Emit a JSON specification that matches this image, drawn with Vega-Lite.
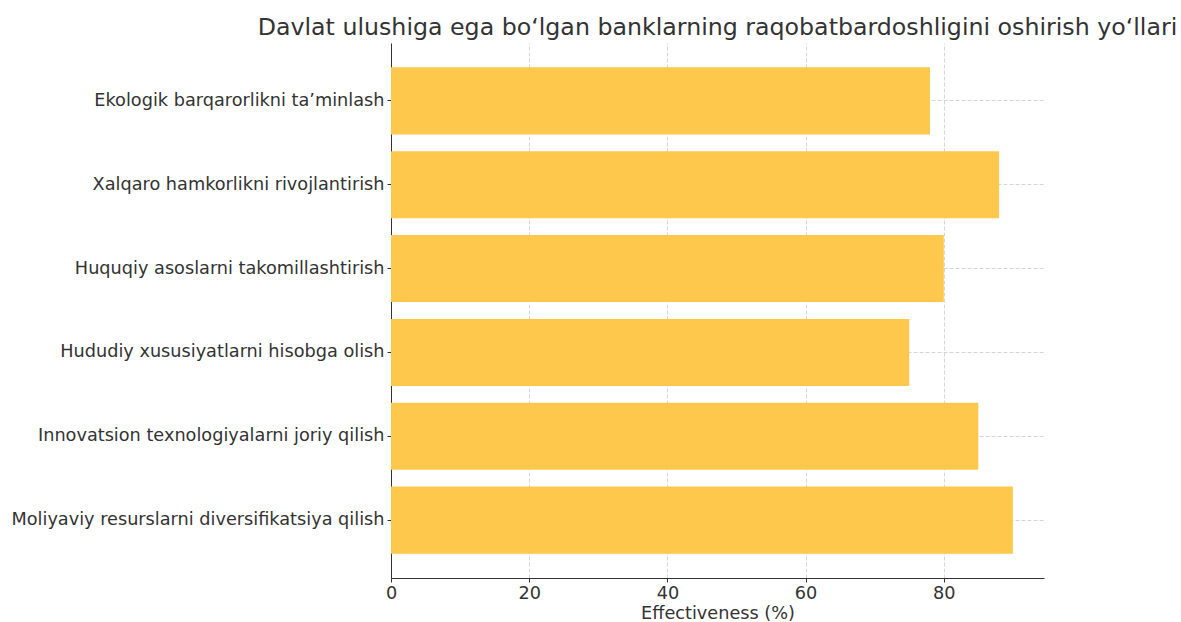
{
  "$schema": "https://vega.github.io/schema/vega-lite/v6.json",
  "autosize": "none",
  "width": 653,
  "height": 535,
  "padding": {"left": 391, "top": 43, "right": 137, "bottom": 44},
  "background": "white",
  "title": {
    "text": "Davlat ulushiga ega bo‘lgan banklarning raqobatbardoshligini oshirish yo‘llari",
    "font": "DejaVu Sans",
    "fontSize": 23.7,
    "fontWeight": "normal",
    "color": "#333333",
    "anchor": "middle",
    "offset": 3
  },
  "data": {
    "values": [
      {"way": "Ekologik barqarorlikni ta’minlash", "value": 78},
      {"way": "Xalqaro hamkorlikni rivojlantirish", "value": 88},
      {"way": "Huquqiy asoslarni takomillashtirish", "value": 80},
      {"way": "Hududiy xususiyatlarni hisobga olish", "value": 75},
      {"way": "Innovatsion texnologiyalarni joriy qilish", "value": 85},
      {"way": "Moliyaviy resurslarni diversifikatsiya qilish", "value": 90}
    ]
  },
  "mark": {"type": "bar", "color": "#FEC84D"},
  "encoding": {
    "y": {
      "field": "way",
      "type": "nominal",
      "sort": null,
      "scale": {"paddingInner": 0.2, "paddingOuter": 0.29},
      "axis": {
        "title": null,
        "labelFont": "DejaVu Sans",
        "labelFontSize": 17.7,
        "labelColor": "#333333",
        "labelPadding": 3,
        "labelLimit": 450,
        "tickSize": 4,
        "tickColor": "#333333",
        "domainColor": "#333333",
        "grid": true,
        "gridDash": [4, 2],
        "gridColor": "#cccccc",
        "gridWidth": 0.8
      }
    },
    "x": {
      "field": "value",
      "type": "quantitative",
      "scale": {"domain": [0, 94.5], "nice": false, "zero": true},
      "axis": {
        "title": "Effectiveness (%)",
        "titleFont": "DejaVu Sans",
        "titleFontSize": 17.7,
        "titleFontWeight": "normal",
        "titleColor": "#333333",
        "titlePadding": 3,
        "values": [0, 20, 40, 60, 80],
        "labelFlush": false,
        "labelFont": "DejaVu Sans",
        "labelFontSize": 17.7,
        "labelColor": "#333333",
        "labelPadding": 2,
        "tickSize": 4,
        "tickColor": "#333333",
        "domainColor": "#333333",
        "grid": true,
        "gridDash": [4, 2],
        "gridColor": "#cccccc",
        "gridWidth": 0.8
      }
    }
  },
  "config": {"view": {"stroke": null}}
}
